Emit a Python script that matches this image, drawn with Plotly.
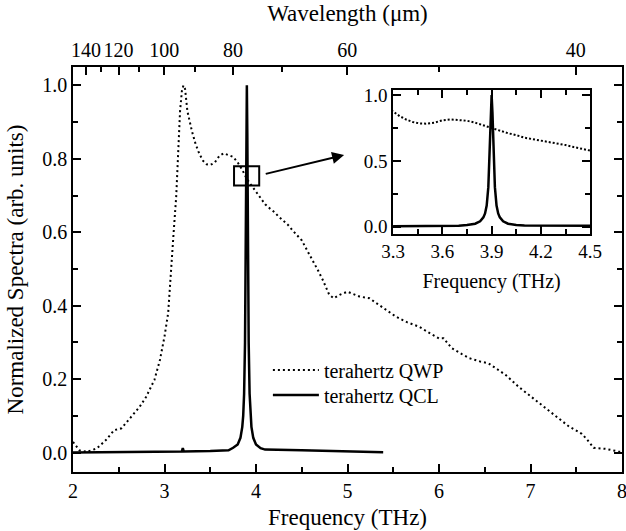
import plotly.graph_objects as go

C_LIGHT = 299.792458  # THz * um

# terahertz QWP spectrum (dotted)
freq_qwp = [2.00, 2.07, 2.15, 2.26, 2.36, 2.45, 2.53, 2.62, 2.73, 2.80, 2.89, 2.95,
            3.00, 3.04, 3.07, 3.10, 3.128, 3.145, 3.17, 3.19, 3.207, 3.225, 3.25,
            3.30, 3.34, 3.38, 3.42, 3.46, 3.50, 3.55, 3.60, 3.65, 3.70, 3.75, 3.80,
            3.85, 3.90, 3.95, 4.00, 4.05, 4.10, 4.15, 4.20, 4.25, 4.30, 4.35, 4.40,
            4.45, 4.50, 4.56, 4.62, 4.68, 4.73, 4.77, 4.80, 4.85, 4.92, 5.00, 5.07,
            5.13, 5.24, 5.30, 5.38, 5.45, 5.53, 5.65, 5.78, 5.90, 6.00, 6.05, 6.14,
            6.25, 6.33, 6.45, 6.54, 6.63, 6.73, 6.87, 7.05, 7.23, 7.42, 7.56, 7.62,
            7.69, 7.82, 7.96, 8.00]
qwp = [0.029, 0.006, 0.002, 0.011, 0.034, 0.061, 0.066, 0.093, 0.125, 0.152, 0.198, 0.252,
       0.316, 0.380, 0.500, 0.600, 0.697, 0.796, 0.930, 0.985, 1.000, 0.990, 0.930,
       0.875, 0.840, 0.814, 0.795, 0.785, 0.783, 0.790, 0.808, 0.815, 0.810, 0.805, 0.790,
       0.770, 0.745, 0.728, 0.710, 0.695, 0.676, 0.665, 0.655, 0.642, 0.630, 0.620, 0.605,
       0.590, 0.578, 0.550, 0.524, 0.495, 0.470, 0.445, 0.430, 0.420, 0.430, 0.438, 0.432,
       0.425, 0.420, 0.410, 0.397, 0.383, 0.370, 0.355, 0.343, 0.325, 0.311, 0.311, 0.284,
       0.268, 0.257, 0.248, 0.243, 0.228, 0.211, 0.179, 0.143, 0.107, 0.071, 0.051, 0.035,
       0.013, 0.010, 0.003, 0.002]

# terahertz QCL spectrum (solid)
freq_qcl = [2.00, 2.50, 3.00, 3.19, 3.20, 3.21, 3.50, 3.70, 3.75, 3.80, 3.83, 3.85, 3.86,
            3.87, 3.88, 3.89, 3.895, 3.90, 3.905, 3.91, 3.92, 3.93, 3.94, 3.95, 3.97,
            4.00, 4.05, 4.10, 4.50, 5.00, 5.39]
qcl = [0.000, 0.002, 0.003, 0.003, 0.012, 0.003, 0.004, 0.006, 0.013, 0.022, 0.040, 0.070, 0.100,
       0.160, 0.300, 0.630, 0.870, 1.000, 0.870, 0.630, 0.300, 0.160, 0.100, 0.070, 0.040,
       0.022, 0.012, 0.008, 0.006, 0.004, 0.001]

x_major = [2, 3, 4, 5, 6, 7, 8]
x_minor = [2.5, 3.5, 4.5, 5.5, 6.5, 7.5]
y_major = [0.0, 0.2, 0.4, 0.6, 0.8, 1.0]
y_minor = [0.1, 0.3, 0.5, 0.7, 0.9]
wl_major = [140, 120, 100, 80, 60, 40]
wl_minor = [130, 110, 90, 70, 50]
inset_x_major = [3.3, 3.6, 3.9, 4.2, 4.5]
inset_x_minor = [3.45, 3.75, 4.05, 4.35]
inset_y_major = [0.0, 0.5, 1.0]
inset_y_minor = [0.25, 0.75]

FONT = "'Liberation Serif', 'Times New Roman', Times, serif"
dot = dict(color="black", width=2, dash="2px,3px")
solid = dict(color="black", width=2.5)

fig = go.Figure()
fig.add_trace(go.Scatter(x=freq_qwp, y=qwp, mode="lines", line=dot, name="terahertz QWP",
                         legend="legend"))
fig.add_trace(go.Scatter(x=freq_qcl, y=qcl, mode="lines", line=solid, name="terahertz QCL",
                         legend="legend2"))
# invisible trace to activate the top wavelength axis
fig.add_trace(go.Scatter(x=freq_qwp, y=qwp, xaxis="x2", yaxis="y", mode="lines",
                         line=dict(width=0), opacity=0, showlegend=False, hoverinfo="skip"))
# inset
fig.add_trace(go.Scatter(x=freq_qwp, y=qwp, xaxis="x3", yaxis="y3", mode="lines",
                         line=dict(color="black", width=2, dash="2px,2px"), showlegend=False))
fig.add_trace(go.Scatter(x=freq_qcl, y=qcl, xaxis="x3", yaxis="y3", mode="lines",
                         line=solid, showlegend=False))

axis_common = dict(showline=True, linecolor="black", linewidth=1.5, ticks="inside",
                   ticklen=8, tickwidth=1.5, tickcolor="black", showgrid=False,
                   zeroline=False, automargin=False, ticklabeloverflow="allow")
minor_common = dict(tickmode="array", ticks="inside", ticklen=5, tickwidth=1.5, tickcolor="black")
legend_common = dict(xanchor="left", yanchor="top", bgcolor="rgba(0,0,0,0)",
                     font=dict(size=20, family=FONT), itemwidth=46)

fig.update_layout(
    width=626, height=531,
    margin=dict(l=73, r=4, t=67, b=59),
    paper_bgcolor="white", plot_bgcolor="white",
    font=dict(family=FONT, color="black", size=20),
    xaxis=dict(axis_common, range=[2, 8], domain=[0, 1], anchor="y",
               tickmode="array", tickvals=x_major,
               minor=dict(minor_common, tickvals=x_minor),
               tickfont=dict(size=20, family=FONT),
               title=dict(text="Frequency (THz)", font=dict(size=23, family=FONT), standoff=8)),
    xaxis2=dict(axis_common, range=[2, 8], overlaying="x", side="top", anchor="y",
                tickmode="array", tickvals=[C_LIGHT / w for w in wl_major],
                ticktext=[str(w) for w in wl_major],
                minor=dict(minor_common, tickvals=[C_LIGHT / w for w in wl_minor]),
                tickfont=dict(size=20, family=FONT),
                title=dict(text="Wavelength (μm)", font=dict(size=23, family=FONT), standoff=11)),
    yaxis=dict(axis_common, range=[-0.053, 1.05], domain=[0, 1], anchor="x",
               mirror="ticks", tickmode="array", tickvals=y_major, tickformat=".1f",
               minor=dict(minor_common, tickvals=y_minor),
               tickfont=dict(size=20, family=FONT),
               title=dict(text="Normalized Spectra (arb. units)", font=dict(size=23, family=FONT),
                          standoff=12)),
    xaxis3=dict(axis_common, range=[3.3, 4.5], domain=[0.583, 0.942], anchor="y3",
                mirror="ticks", tickmode="array", tickvals=inset_x_major, tickformat=".1f",
                minor=dict(minor_common, tickvals=inset_x_minor),
                tickfont=dict(size=19, family=FONT),
                title=dict(text="Frequency (THz)", font=dict(size=20, family=FONT), standoff=13)),
    yaxis3=dict(axis_common, range=[-0.055, 1.038], domain=[0.588, 0.943], anchor="x3",
                mirror="ticks", tickmode="array", tickvals=inset_y_major, tickformat=".1f",
                minor=dict(minor_common, tickvals=inset_y_minor),
                tickfont=dict(size=19, family=FONT)),
    legend=dict(legend_common, x=0.355, y=0.30),
    legend2=dict(legend_common, x=0.355, y=0.238),
    showlegend=True,
)

fig.add_shape(type="rect", xref="x", yref="y", x0=3.76, x1=4.035, y0=0.727, y1=0.78,
              line=dict(color="black", width=2))
fig.add_annotation(x=4.963, y=0.81, ax=4.09, ay=0.758, xref="x", yref="y",
                   axref="x", ayref="y", text="", showarrow=True, arrowhead=2,
                   arrowsize=1.2, arrowwidth=2, arrowcolor="black")

fig.write_html("out.html", config={"displayModeBar": False},
               post_script="document.body.style.margin='0px';document.body.style.padding='0px';")
